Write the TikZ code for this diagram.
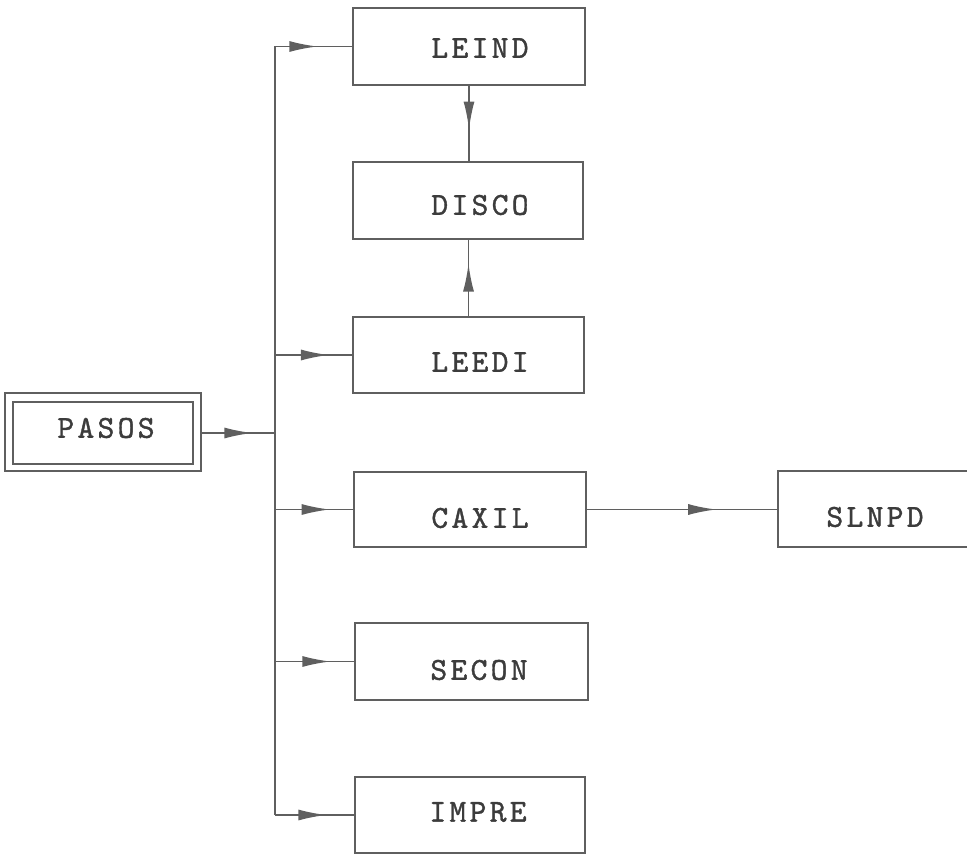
\documentclass[tikz,border=0pt]{standalone}
\usepackage{fontspec}
\newfontfamily\boxfont{lmmono10-regular.otf}[FakeBold=1.2]
\usetikzlibrary{arrows.meta,decorations.markings}
\definecolor{ink}{RGB}{95,95,95}
\definecolor{txt}{RGB}{60,60,60}
\makeatletter
\def\spc#1{\kern3.3pt\spc@#1\@nil}
\def\spc@#1{\ifx#1\@nil\else#1\kern3.3pt\expandafter\spc@\fi}
\makeatother
\tikzset{
  procbox/.style={draw=ink, line width=1.8pt, rectangle, minimum width=232pt, minimum height=77pt, inner sep=0pt},
  lbl/.style={inner sep=0pt, text=txt, font=\fontsize{32}{32}\selectfont\boxfont},
  conn/.style={draw=ink, line width=1.8pt},
  midarrow/.style={postaction={decorate}, decoration={markings,
    mark=at position #1 with {\arrow{Latex[length=28pt,width=11pt,fill=ink,color=ink]}}}},
}
\begin{document}
\begin{tikzpicture}[x=1pt,y=-1pt]
\useasboundingbox (0,0) rectangle (967,856);
\clip (0,0) rectangle (967,856);
% boxes
\node[procbox] (leind) at (469,46.5) {};
\node[procbox, minimum width=230pt] (disco) at (468,200.5) {};
\node[procbox, minimum width=231pt, minimum height=76pt] (leedi) at (468.5,355) {};
\node[procbox, minimum height=75pt] (caxil) at (470,509.5) {};
\node[procbox, minimum width=233pt] (secon) at (471.5,661.5) {};
\node[procbox, minimum width=230pt, minimum height=76pt] (impre) at (470,815) {};
\node[procbox, minimum width=194pt, minimum height=76pt] (slnpd) at (875,509) {};
\node[procbox, minimum width=196pt, minimum height=78pt] (pasosout) at (103,432) {};
\node[procbox, minimum width=180pt, minimum height=62pt] (pasos) at (103,433) {};
% labels
\node[lbl] (leindt) at (480,48) {\spc{LEIND}};
\node[lbl] (discot) at (480,205) {\spc{DISCO}};
\node[lbl] (leedit) at (480,362) {\spc{LEEDI}};
\node[lbl] (caxilt) at (480,518) {\spc{CAXIL}};
\node[lbl] (secont) at (479,670) {\spc{SECON}};
\node[lbl] (impret) at (478,812) {\spc{IMPRE}};
\node[lbl] (slnpdt) at (875,517) {\spc{SLNPD}};
\node[lbl] (pasost) at (106,428) {\spc{PASOS}};
% trunk
\coordinate (ttop) at (275,46.5);
\coordinate (tbot) at (275,815);
\draw[conn] (ttop) -- (tbot);
% connectors
\draw[conn, midarrow=0.69] (pasosout.east |- pasos.east) -- (ttop |- pasos.east);
\draw[conn, midarrow=0.55] (ttop) -- (leind.west);
\draw[conn, midarrow=0.7] (ttop |- leedi.west) -- (leedi.west);
\draw[conn, midarrow=0.7] (ttop |- caxil.west) -- (caxil.west);
\draw[conn, midarrow=0.7] (ttop |- secon.west) -- (secon.west);
\draw[conn, midarrow=0.65] (tbot) -- (impre.west);
\draw[conn, midarrow=0.68] (caxil.east) -- (caxil.east -| slnpd.west);
\draw[conn, midarrow=0.58] (leind.south) -- (leind.south |- disco.north);
\draw[conn, midarrow=0.69] (leedi.north) -- (leedi.north |- disco.south);
\end{tikzpicture}
\end{document}
